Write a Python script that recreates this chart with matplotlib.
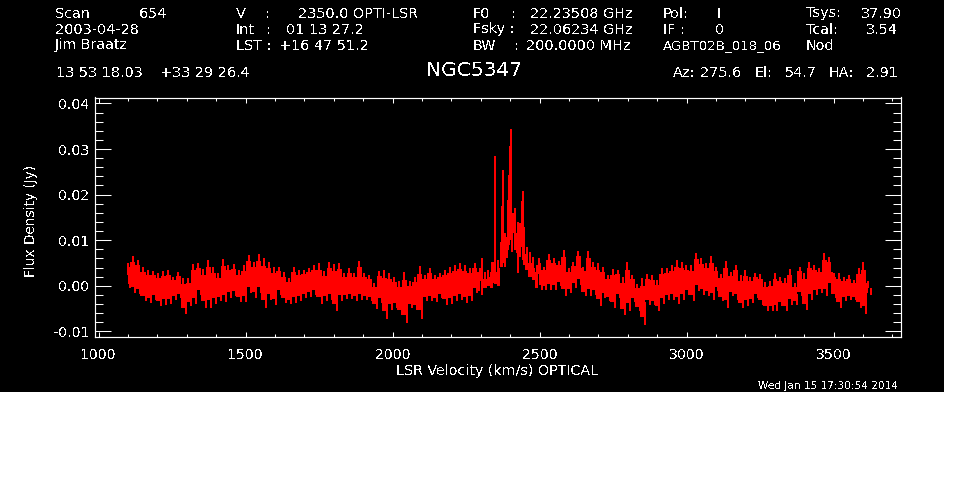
#!/usr/bin/env python3
# -*- coding: utf-8 -*-
"""GBT spectrum of NGC5347, redrawn in the old IDL look"""

import numpy as np
import matplotlib
matplotlib.use('Agg')
import matplotlib.pyplot as plt
from matplotlib.patches import Rectangle
from matplotlib.ticker import MultipleLocator, FormatStrFormatter

# upper and lower edge of the noise band in mJy, read per velocity bin
left_hi = [5.0, 6.6, 5.7, 4.2, 3.5, 3.3, 2.8, 3.3, 3.5, 2.0, 3.1, 1.7, 1.7, 4.8, 5.0, 3.7, 5.7, 4.2, 2.8,
           5.9, 4.6, 4.7, 3.5, 4.6, 6.8, 5.3, 6.9, 6.1, 5.2, 4.2, 4.2, 3.1, 1.7, 4.2, 3.5, 3.5, 4.0,
           4.6, 5.0, 3.3, 5.2, 4.8, 5.0, 2.8, 4.0, 2.8, 5.5, 2.8, 2.4, 0.6, 3.3, 3.5, 2.8, 2.0, 1.0,
           3.1, 1.0, 2.0, 4.4, 2.3, 4.0, 2.4, 2.8, 3.5, 4.2, 4.5, 5.0, 4.6, 4.0, 5.0, 3.9]
left_lo = [-0.4, -1.6, -1.8, -3.4, -3.8, -3.1, -4.4, -4.2, -4.0, -3.1, -2.7, -6.1, -4.5, -4.0, -2.0, -4.8, -4.8, -4.0, -3.4,
           -3.6, -2.6, -2.3, -3.6, -3.6, -1.6, -2.7, -1.6, -4.8, -3.1, -4.2, -2.0, -3.8, -4.0, -3.8, -3.4, -2.7, -2.5,
           -2.0, -4.0, -3.4, -3.1, -5.6, -3.3, -2.9, -2.9, -3.3, -3.1, -3.1, -3.4, -5.0, -3.8, -7.2, -5.3, -4.9, -6.4,
           -8.2, -4.9, -5.3, -7.2, -3.4, -3.4, -3.6, -2.6, -4.2, -4.0, -3.4, -3.1, -3.8, -3.4, -1.6, -2.0]

# the line itself, channels read one by one
peak_vel = [2303, 2315, 2326, 2337, 2345, 2350, 2360, 2368, 2373.5, 2377, 2383, 2388, 2394, 2397, 2401, 2404,
            2407, 2411, 2417, 2422, 2428, 2434, 2439, 2443, 2448, 2456, 2468, 2479, 2490]
peak_hi = [6.1, 3.1, 3.5, 5.3, 5.3, 28.5, 5.7, 9.7, 17.5, 25.4, 11.5, 10.8, 18.9, 24.3, 30.7, 34.4,
           15.2, 16.0, 17.0, 11.5, 14.1, 13.7, 18.5, 20.8, 13.0, 8.6, 7.5, 6.4, 4.6]
peak_lo = [0.6, -0.5, -0.1, -0.5, 0.6, 0.5, 0.0, 4.2, 4.2, 5.0, 4.2, 6.0, 7.9, 9.0, 10.0, 11.0,
           7.5, 11.5, 7.9, 7.2, 2.9, 6.4, 8.6, 5.7, 4.6, 3.5, 2.0, 1.3, -0.5]
peak_core = [3.0, 1.5, 2.0, 3.0, 3.0, 3.0, 4.0, 7.0, 9.0, 10.0, 9.0, 9.0, 12.0, 13.0, 14.0, 14.0,
             13.0, 14.0, 14.0, 10.0, 10.0, 11.0, 13.0, 12.0, 10.0, 7.0, 5.0, 4.0, 3.0]

right_hi = [6.2, 4.2, 6.9, 6.2, 5.5, 7.9, 4.0, 5.3, 7.7, 4.2, 7.7, 5.2, 5.0, 4.2, 2.4, 3.7, 3.5, 2.0, 5.2,
            2.4, 0.4, 1.7, 2.6, 2.4, 1.3, 3.9, 4.0, 4.5, 5.7, 5.3, 4.6,
            4.6, 7.2, 6.1, 5.0, 6.6, 4.2, 2.6, 5.5, 3.1, 4.6, 2.3, 3.5, 2.0, 2.8, 2.6, 0.8, 1.0, 2.8,
            2.0, 1.7, 3.7, 0.6, 4.2, 2.8, 5.3, 4.5, 3.9, 7.2, 6.4, 2.8, 2.8, 2.0, 2.4, 1.3, 3.9, 5.2, 1.1]
right_lo = [-0.9, -0.9, -0.9, -0.9, -0.1, -2.3, -1.5, -0.4, 0.2, -2.3, -2.3, -2.0, -4.5, -2.7, -3.4, -4.9, -2.7, -6.4, -5.6,
            -3.6, -5.6, -8.6, -4.3, -4.3, -5.6, -4.0, -3.1, -3.1, -4.0, -3.1, -2.0,
            -3.3, -1.2, -2.1, -2.3, -3.1, -1.2, -3.3, -4.8, -2.3, -3.1, -4.9, -4.5, -3.8, -2.7, -4.2, -5.5, -5.5, -5.6,
            -4.5, -5.6, -4.2, -4.2, -2.3, -5.3, -3.1, -2.0, -1.6, -2.3, -0.5, -2.7, -4.8, -3.4, -3.1, -3.1, -4.9, -6.2, -2.0]

left_range = (1100, 2297)
right_range = (2498, 3618)

# header text, columns
header_items = [
    (55.5, 13.5, 'Scan'), (139, 13.5, '654'), (55.5, 29.5, '2003-04-28'), (55, 45.5, 'Jim Braatz'),
    (236, 13.5, 'V'), (265, 13.5, ':'), (298, 13.5, '2350.0 OPTI-LSR'),
    (236, 29.5, 'Int'), (266, 29.5, ':'), (286, 29.5, '01 13 27.2'),
    (236, 45.5, 'LST :'), (279, 45.5, '+16 47 51.2'),
    (473, 13.5, 'F0'), (511, 13.5, ':'), (530, 13.5, '22.23508 GHz'),
    (473, 29.5, 'Fsky :'), (530, 29.5, '22.06234 GHz'),
    (473, 45.5, 'BW'), (514, 45.5, ':'), (526, 45.5, '200.0000 MHz'),
    (663, 13.5, 'Pol:'), (717, 13.5, 'I'), (663, 29.5, 'IF :'), (715, 29.5, '0'),
    (806, 13.5, 'Tsys:'), (861, 13.5, '37.90'), (806, 29.5, 'Tcal:'), (866, 29.5, '3.54'), (806, 45.5, 'Nod'),
    (56, 73, '13 53 18.03'), (160, 73, '+33 29 26.4'),
    (673, 73, 'Az:'), (700, 73, '275.6'), (755, 73, 'El:'), (785, 73, '54.7'), (829, 73, 'HA:'), (866, 73, '2.91'),
]
project_id = 'AGBT02B_018_06'
source_name = 'NGC5347'
x_label = 'LSR Velocity (km/s) OPTICAL'
y_label = 'Flux Density (Jy)'
time_stamp = 'Wed Jan 15 17:30:54 2014'

W, H = 962, 490
plt.rcParams['font.family'] = ['DejaVu Sans']
plt.rcParams['text.antialiased'] = False
plt.rcParams['axes.unicode_minus'] = False


def put_text(fig, px, py, s, size=10.4, **kw):
    fig.text(px / W, 1 - py / H, s, color='white', fontsize=size, va='center', **kw)


def draw_band(ax, vel, hi, lo, half):
    """thin noise spikes standing on a blocky core band"""
    hi = np.array(hi) / 1000.0
    lo = np.array(lo) / 1000.0
    mid = (hi + lo) / 2
    core_hi = mid + 0.68 * (hi - mid)
    core_lo = mid + 0.68 * (lo - mid)
    ax.fill_between(vel, core_lo, core_hi, step='mid', color='#ff0000', lw=0, antialiased=False)
    ax.vlines(vel, mid, hi, color='#ff0000', lw=1.2, antialiased=False)
    ax.vlines(vel + half, lo, mid, color='#ff0000', lw=1.2, antialiased=False)


fig = plt.figure(figsize=(W / 100, H / 100), dpi=100, facecolor='white')
fig.add_artist(Rectangle((0, 1 - 392 / H), 944 / W, 392 / H, transform=fig.transFigure,
                         facecolor='black', edgecolor='none', zorder=-5))

ax = fig.add_axes([94.7 / W, 1 - 337.3 / H, (900.7 - 94.7) / W, (337.3 - 97.5) / H])
ax.set_facecolor('black')
ax.set_xlim(987, 3728)
ax.set_ylim(-0.0113, 0.0413)

# spectrum in three parts, mJy to Jy happens in the drawing
left_vel = np.linspace(left_range[0], left_range[1], len(left_hi))
right_vel = np.linspace(right_range[0], right_range[1], len(right_hi))
draw_band(ax, left_vel, left_hi, left_lo, 8.5)
draw_band(ax, right_vel, right_hi, right_lo, 8.5)

peak_v = np.array(peak_vel, dtype=float)
ax.fill_between(peak_v, np.array(peak_lo) / 1000.0, np.array(peak_core) / 1000.0, step='mid', color='#ff0000', lw=0, antialiased=False)
ax.vlines(peak_v, np.array(peak_lo) / 1000.0, np.array(peak_hi) / 1000.0, color='#ff0000', lw=1.3, antialiased=False)

ax.xaxis.set_major_locator(MultipleLocator(500))
ax.xaxis.set_minor_locator(MultipleLocator(100))
ax.yaxis.set_major_locator(MultipleLocator(0.01))
ax.yaxis.set_minor_locator(MultipleLocator(0.002))
ax.yaxis.set_major_formatter(FormatStrFormatter('%.2f'))
ax.tick_params(which='major', axis='x', direction='in', top=True, bottom=True, length=3.8, width=0.75, color='white',
               labelcolor='white', labelsize=10.2, pad=8)
ax.tick_params(which='minor', axis='x', direction='in', top=True, bottom=True, length=1.9, width=0.75, color='white')
ax.tick_params(which='major', axis='y', direction='in', left=True, right=True, length=11.5, width=0.75, color='white',
               labelcolor='white', labelsize=10.2, pad=4)
ax.tick_params(which='minor', axis='y', direction='in', left=True, right=True, length=5.8, width=0.75, color='white')
for side in ax.spines.values():
    side.set_color('white')
    side.set_linewidth(0.85)

for px, py, s in header_items:
    put_text(fig, px, py, s)
put_text(fig, 663, 45.5, project_id, size=9.6)
put_text(fig, 426, 71, source_name, size=14.6)
put_text(fig, 497, 371, x_label, size=10.3, ha='center')
put_text(fig, 31, 221, y_label, size=9.8, rotation=90, ha='center')
put_text(fig, 758, 386, time_stamp, size=7.6)

fig.savefig('out.png', dpi=100, facecolor='white')
